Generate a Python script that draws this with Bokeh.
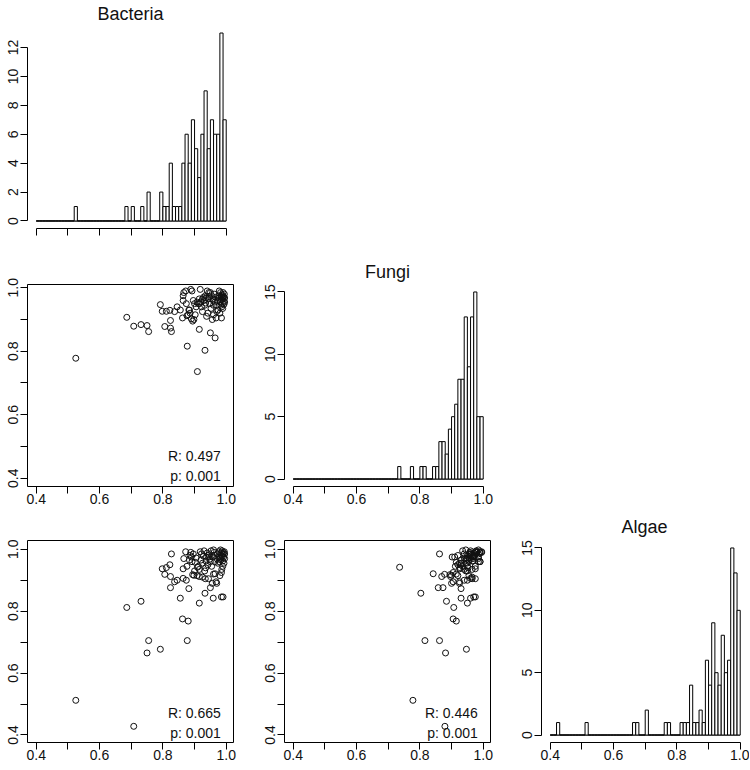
import math
from bokeh.plotting import figure
from bokeh.layouts import column, row
from bokeh.models import Range1d, FixedTicker, PrintfTickFormatter
from bokeh.core.properties import value
from bokeh.embed import file_html
from bokeh.resources import INLINE

FONT = "Liberation Sans"

# ---------------- data ----------------
names = ["Bacteria", "Fungi", "Algae"]
bin_left = [round(0.40 + 0.01 * i, 2) for i in range(60)]
bin_right = [round(b + 0.01, 2) for b in bin_left]

bacteria_counts = [0, 0, 0, 0, 0, 0, 0, 0, 0, 0,
                   0, 0, 1, 0, 0, 0, 0, 0, 0, 0,
                   0, 0, 0, 0, 0, 0, 0, 0, 1, 0,
                   1, 0, 0, 1, 0, 2, 0, 0, 0, 2,
                   1, 1, 4, 1, 1, 1, 4, 6, 4, 7,
                   5, 3, 6, 9, 5, 7, 6, 6, 13, 7]
fungi_counts = [0, 0, 0, 0, 0, 0, 0, 0, 0, 0,
                0, 0, 0, 0, 0, 0, 0, 0, 0, 0,
                0, 0, 0, 0, 0, 0, 0, 0, 0, 0,
                0, 0, 0, 1, 0, 0, 0, 1, 0, 0,
                1, 1, 0, 0, 1, 1, 3, 3, 2, 4,
                5, 6, 8, 8, 13, 9, 13, 15, 5, 5]
algae_counts = [0, 0, 1, 0, 0, 0, 0, 0, 0, 0,
                0, 1, 0, 0, 0, 0, 0, 0, 0, 0,
                0, 0, 0, 0, 0, 0, 1, 1, 0, 0,
                2, 0, 0, 0, 0, 0, 1, 1, 0, 0,
                0, 1, 1, 1, 4, 1, 1, 2, 1, 6,
                4, 9, 5, 4, 8, 5, 6, 15, 13, 10]

bacteria = [0.525, 0.708, 0.686, 0.731, 0.750, 0.755, 0.792, 0.877, 0.909, 0.933,
            0.965, 0.862, 0.880, 0.950, 0.915, 0.824, 0.806, 0.798, 0.811, 0.822,
            0.824, 0.827, 0.837, 0.845, 0.855, 0.864, 0.874, 0.864, 0.882, 0.915,
            0.959, 0.985, 0.990, 0.866, 0.872, 0.876, 0.884, 0.886, 0.888, 0.890,
            0.892, 0.894, 0.896, 0.898, 0.900, 0.902, 0.905, 0.908, 0.912, 0.918,
            0.920, 0.922, 0.925, 0.928, 0.930, 0.932, 0.934, 0.936, 0.938, 0.940,
            0.942, 0.944, 0.946, 0.948, 0.952, 0.954, 0.956, 0.958, 0.960, 0.962,
            0.964, 0.966, 0.968, 0.970, 0.972, 0.974, 0.976, 0.978, 0.980, 0.981,
            0.982, 0.983, 0.984, 0.985, 0.986, 0.987, 0.988, 0.989, 0.990, 0.991,
            0.992, 0.993, 0.994, 0.995, 0.995, 0.989, 0.978, 0.960, 0.945, 0.935,
            0.925, 0.915, 0.970, 0.985, 0.950]
fungi = [0.778, 0.879, 0.907, 0.884, 0.881, 0.862, 0.947, 0.816, 0.736, 0.803,
         0.842, 0.905, 0.915, 0.858, 0.869, 0.873, 0.878, 0.926, 0.926, 0.929,
         0.897, 0.862, 0.925, 0.940, 0.930, 0.960, 0.950, 0.975, 0.930, 0.950,
         0.960, 0.975, 0.970, 0.985, 0.990, 0.912, 0.930, 0.920, 0.995, 0.902,
         0.990, 0.895, 0.960, 0.900, 0.950, 0.915, 0.940, 0.955, 0.950, 0.995,
         0.955, 0.940, 0.965, 0.970, 0.960, 0.945, 0.975, 0.968, 0.910, 0.990,
         0.920, 0.965, 0.972, 0.950, 0.935, 0.975, 0.900, 0.965, 0.915, 0.980,
         0.955, 0.970, 0.905, 0.945, 0.960, 0.930, 0.975, 0.968, 0.920, 0.955,
         0.985, 0.945, 0.970, 0.962, 0.940, 0.978, 0.950, 0.966, 0.985, 0.958,
         0.972, 0.948, 0.980, 0.968, 0.955, 0.935, 0.990, 0.945, 0.985, 0.952,
         0.925, 0.965, 0.925, 0.905, 0.985]
algae = [0.512, 0.428, 0.812, 0.832, 0.665, 0.705, 0.677, 0.705, 0.942, 0.858,
         0.921, 0.775, 0.768, 0.876, 0.912, 0.876, 0.919, 0.937, 0.941, 0.950,
         0.912, 0.985, 0.895, 0.900, 0.842, 0.906, 0.900, 0.937, 0.873, 0.826,
         0.842, 0.846, 0.846, 0.970, 0.992, 0.945, 0.965, 0.980, 0.990, 0.975,
         0.960, 0.918, 0.985, 0.916, 0.930, 0.958, 0.972, 0.915, 0.945, 0.992,
         0.965, 0.985, 0.910, 0.978, 0.995, 0.930, 0.905, 0.962, 0.975, 0.988,
         0.950, 0.905, 0.982, 0.968, 0.995, 0.945, 0.890, 0.975, 0.920, 0.990,
         0.960, 0.980, 0.895, 0.970, 0.985, 0.955, 0.992, 0.975, 0.915, 0.972,
         0.998, 0.965, 0.988, 0.980, 0.935, 0.995, 0.978, 0.962, 0.985, 0.990,
         0.975, 0.955, 0.992, 0.970, 0.985, 0.945, 0.960, 0.998, 0.975, 0.940,
         0.955, 0.935, 0.890, 0.925, 0.960]

r_values = ["0.497", "0.665", "0.446"]
p_values = ["0.001", "0.001", "0.001"]

prop_ticks = [0.4, 0.6, 0.8, 1.0]
prop_minor = [0.5, 0.7, 0.9]
prop_all = [0.4, 0.5, 0.6, 0.7, 0.8, 0.9, 1.0]
bact_yticks = [0, 2, 4, 6, 8, 10, 12]
other_yticks = [0, 5, 10, 15]


# ---------------- helpers ----------------
def base_fig(w, h, l, r, t, b, xr, yr, box):
    p = figure(width=w, height=h, x_range=Range1d(*xr), y_range=Range1d(*yr),
               output_backend="svg", toolbar_location=None,
               min_border_left=l, min_border_right=r,
               min_border_top=t, min_border_bottom=b)
    p.grid.visible = False
    p.outline_line_color = "black" if box else None
    p.outline_line_width = 1
    p.background_fill_color = "white"
    p.border_fill_color = "white"
    for ax in (p.xaxis[0], p.yaxis[0]):
        ax.axis_line_color = "black"
        ax.major_tick_line_color = "black"
        ax.minor_tick_line_color = "black"
        ax.major_tick_out = 7
        ax.major_tick_in = 0
        ax.minor_tick_out = 7
        ax.minor_tick_in = 0
        ax.major_label_text_font = FONT
        ax.major_label_text_font_size = "14px"
        ax.major_label_text_color = "#111111"
    p.xaxis.major_label_standoff = 0
    p.yaxis.major_label_standoff = 2
    p.yaxis.major_label_orientation = "parallel"
    p.xaxis.ticker = FixedTicker(ticks=prop_ticks, minor_ticks=prop_minor)
    p.xaxis.formatter = PrintfTickFormatter(format="%.1f")
    p.xaxis.bounds = (prop_ticks[0], prop_ticks[-1])
    return p


def hist_fig(w, h, l, r, t, b, xr, counts, yticks, title, standoff, show_xlabels=True):
    ymax = max(counts)
    yr = (-0.04 * ymax, 1.04 * ymax)
    p = base_fig(w, h, l, r, t, b, xr, yr, False)
    p.title.text = title
    p.title.align = "center"
    p.title.text_font = FONT
    p.title.text_font_size = "18px"
    p.title.text_font_style = "normal"
    p.title.text_color = "#111111"
    p.title.standoff = standoff
    p.yaxis.ticker = FixedTicker(ticks=yticks)
    p.yaxis.bounds = (yticks[0], yticks[-1])
    if not show_xlabels:
        p.xaxis.ticker = FixedTicker(ticks=[], minor_ticks=prop_all)
    p.segment(x0=bin_left[0], y0=0, x1=bin_right[-1], y1=0, line_color="black", line_width=1)
    p.quad(left=bin_left, right=bin_right, bottom=0, top=counts,
           fill_color="white", line_color="black", line_width=1)
    return p


def scatter_fig(w, h, l, r, t, b, xr, yr, xs, ys, rv, pv):
    p = base_fig(w, h, l, r, t, b, xr, yr, True)
    p.yaxis.ticker = FixedTicker(ticks=prop_ticks, minor_ticks=prop_minor)
    p.yaxis.formatter = PrintfTickFormatter(format="%.1f")
    p.yaxis.bounds = (prop_ticks[0], prop_ticks[-1])
    p.scatter(xs, ys, marker="circle", size=6, fill_color=None,
              line_color="#111111", line_width=1)
    p.text(x=[0.983], y=[0.470], text=["R: " + rv], text_align="right",
           text_baseline="alphabetic", text_font=value(FONT),
           text_font_size=value("14px"), text_color="#111111")
    p.text(x=[0.983], y=[0.406], text=["p: " + pv], text_align="right",
           text_baseline="alphabetic", text_font=value(FONT),
           text_font_size=value("14px"), text_color="#111111")
    return p


XR = (0.3725, 1.023)
YR2 = (0.3738, 1.0104)
YR3 = (0.3757, 1.0284)

h_b = hist_fig(255, 256, 27, 22, 22, 28, XR, bacteria_counts, bact_yticks, names[0], 3, show_xlabels=False)

s_bf = scatter_fig(255, 254, 27, 22, 28, 24, XR, YR2, bacteria, fungi, r_values[0], p_values[0])
h_f = hist_fig(255, 254, 29, 20, 24, 24, XR, fungi_counts, other_yticks, names[1], 6)

s_ba = scatter_fig(255, 256, 27, 22, 25, 24, XR, YR3, bacteria, algae, r_values[1], p_values[1])
s_fa = scatter_fig(255, 256, 29, 20, 25, 24, XR, YR3, fungi, algae, r_values[2], p_values[2])
h_a = hist_fig(239, 256, 31, 2, 27, 24, XR, algae_counts, other_yticks, names[2], 8)

layout = column(h_b, row(s_bf, h_f), row(s_ba, s_fa, h_a))

open("out.html", "w").write(file_html(layout, INLINE))
